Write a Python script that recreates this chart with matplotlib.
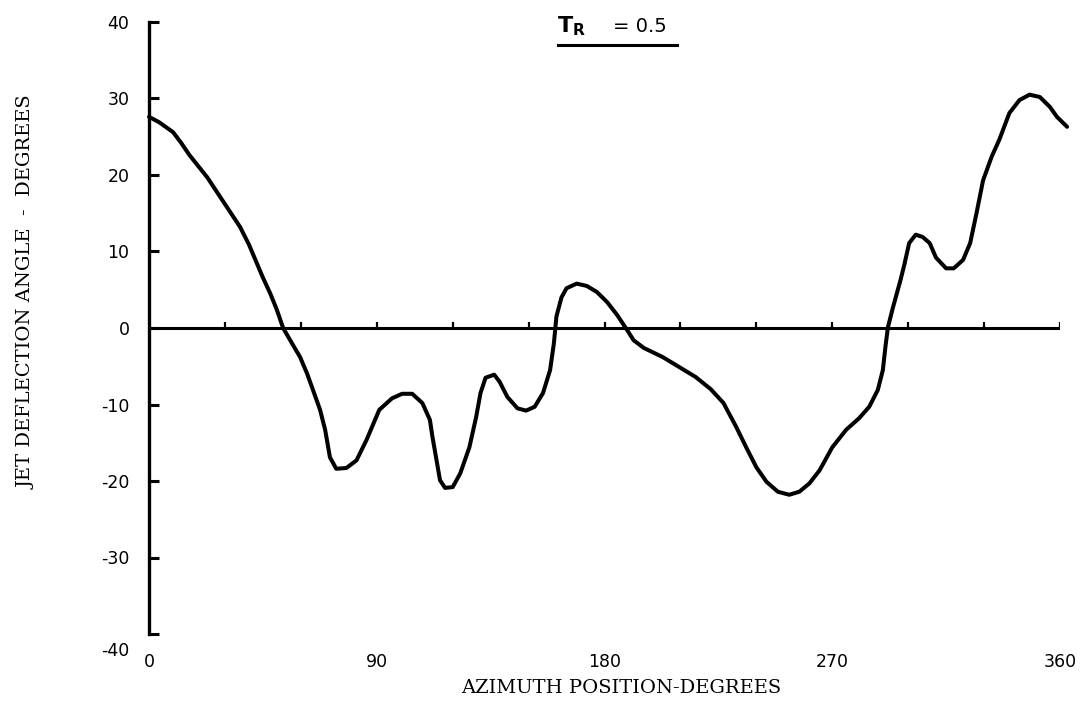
import matplotlib
matplotlib.use('Agg')
import matplotlib.pyplot as plt
import numpy as np
from matplotlib.lines import Line2D

# azimuth position (deg) and jet deflection angle (deg)
azimuth = [0, 4, 9.5, 12.7, 16, 23, 29, 36, 39.5, 42.7, 45, 47.8, 50.5, 53, 56.5,
           59.7, 62.4, 64.8, 67.6, 69.6, 71.5, 74, 78, 82, 86, 91, 96, 100, 104, 108,
           111, 112, 115, 117, 120, 123, 126.6, 129.3, 131, 133, 136.4, 138.5, 141.6,
           145.6, 149, 152.4, 155.7, 158.5, 160, 161, 163, 165, 169, 173, 177, 181,
           185, 189, 191.5, 195.5, 203, 209.5, 216, 222, 227, 232, 236, 240, 244,
           248.5, 253, 257, 261, 265, 270, 275.5, 280.6, 284.6, 288, 290, 291, 292,
           294, 297, 298.5, 300.4, 303, 305.7, 308.5, 311, 315, 318, 321.7, 324.5,
           327, 329.6, 333, 336, 340, 344, 348, 352, 356, 358.8, 362.8]
deflection = [27.6, 26.9, 25.6, 24.2, 22.6, 19.7, 16.7, 13.2, 10.9, 8.4, 6.6, 4.6, 2.4,
              0, -2, -3.8, -5.9, -8.1, -10.7, -13.3, -16.9, -18.4, -18.3, -17.3, -14.6,
              -10.7, -9.2, -8.6, -8.6, -9.8, -12, -14.2, -19.9, -20.9, -20.8, -19,
              -15.6, -11.6, -8.5, -6.5, -6.1, -7, -9, -10.5, -10.8, -10.3, -8.5, -5.5,
              -2, 1.5, 4, 5.2, 5.8, 5.5, 4.7, 3.4, 1.7, -0.3, -1.6, -2.6, -3.8, -5.1,
              -6.4, -8.0, -9.8, -12.9, -15.6, -18.2, -20.1, -21.4, -21.8, -21.4, -20.3,
              -18.6, -15.6, -13.3, -11.8, -10.3, -8.1, -5.5, -2.5, 0.1, 2.7, 6.3, 8.3,
              11.1, 12.2, 11.9, 11.1, 9.2, 7.8, 7.8, 8.9, 11.1, 15, 19.3, 22.4, 24.6,
              28.1, 29.8, 30.5, 30.2, 28.9, 27.6, 26.3]

x_ticks = [0, 90, 180, 270, 360]
y_ticks = [-40, -30, -20, -10, 0, 10, 20, 30, 40]
zero_ticks = np.arange(30, 361, 30)

W, H = 1081, 711
fig = plt.figure(figsize=(W / 100, H / 100), dpi=100)
ax = fig.add_axes([149 / W, (H - 634) / H, 911 / W, 612 / H])

ax.plot(azimuth, deflection, color='black', lw=2.9, solid_joinstyle='round',
        solid_capstyle='round', clip_on=False, zorder=3)

# zero line with small upward ticks
ax.axhline(0, color='black', lw=2.2)
ax.vlines(zero_ticks, 0, 0.8, color='black', lw=1.6)

ax.set_xlim(0, 360)
ax.set_ylim(-40, 40)
for s in ['top', 'right', 'bottom']:
    ax.spines[s].set_visible(False)
ax.spines['left'].set_linewidth(2.4)

ax.set_xticks(x_ticks)
ax.set_xticklabels([str(v) for v in x_ticks])
ax.tick_params(axis='x', length=0, pad=14, labelsize=12.5)

ax.set_yticks(y_ticks)
ax.set_yticklabels(['' if v == -40 else str(v) for v in y_ticks])
ax.tick_params(axis='y', direction='in', length=7, width=2.2, pad=14, labelsize=12.5)
ax.annotate('-40', xy=(0, -40), xytext=(-14, -12), textcoords='offset points',
            ha='right', va='center', fontsize=12.5)

fig.text(621 / W, 1 - 688 / H, 'AZIMUTH POSITION-DEGREES', ha='center', va='center',
         family='DejaVu Serif', fontsize=14)
fig.text(27 / W, 1 - 292 / H, 'JET DEFLECTION ANGLE  -  DEGREES', ha='center',
         va='center', rotation=90, family='DejaVu Serif', fontsize=14)

fig.text(571 / W, 1 - 26 / H, r'$\mathbf{T}_{\mathbf{R}}$', ha='center', va='center',
         fontsize=16)
fig.text(640 / W, 1 - 27 / H, '= 0.5', ha='center', va='center', fontsize=14)
fig.add_artist(Line2D([558 / W, 677 / W], [1 - 45 / H, 1 - 45 / H], color='black', lw=2.2))

fig.savefig('out.png', dpi=100)
